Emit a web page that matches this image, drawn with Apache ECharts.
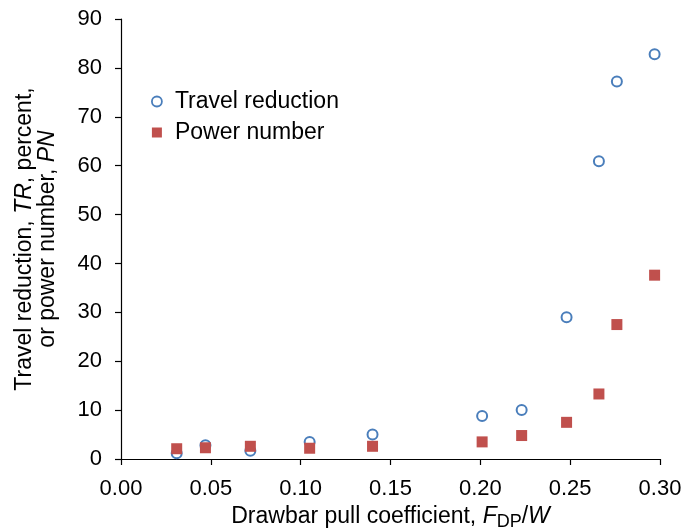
<!DOCTYPE html>
<html>
<head>
<meta charset="utf-8">
<script src="https://cdn.jsdelivr.net/npm/echarts@6/dist/echarts.min.js"></script>
<style>
html,body{margin:0;padding:0;background:#fff;}
#c{width:699px;height:531px;}
</style>
</head>
<body>
<div id="c"></div>
<script>
// Drawbar pull coefficient (x)
var fdp = [0.031, 0.047, 0.072, 0.105, 0.140, 0.201, 0.223, 0.248, 0.266, 0.276, 0.297];
// Travel reduction, percent
var travelReduction = [1.2, 2.8, 1.7, 3.5, 5.0, 8.8, 10.0, 29.0, 60.9, 77.2, 82.8];
// Power number
var powerNumber = [2.1, 2.3, 2.6, 2.2, 2.6, 3.5, 4.8, 7.5, 13.3, 27.5, 37.6];
var seriesNames = ['Travel reduction', 'Power number'];

var FONT = '"Liberation Sans", Arial, sans-serif';
var BLUE = '#4A7EBB', RED = '#C0504D';
var chart = echarts.init(document.getElementById('c'), null, {renderer: 'canvas'});

function pairs(xs, ys) { return xs.map(function (x, i) { return [x, ys[i]]; }); }

chart.setOption({
  animation: false,
  backgroundColor: '#ffffff',
  textStyle: {fontFamily: FONT, color: '#000'},
  grid: {left: 121, right: 39, top: 19, bottom: 72, containLabel: false, outerBoundsMode: 'none'},
  legend: {
    orient: 'vertical',
    left: 146, top: 85,
    itemWidth: 10, itemHeight: 10,
    itemGap: 8,
    textStyle: {fontFamily: FONT, fontSize: 23, color: '#000', padding: [0, 0, 0, 8]},
    data: [
      {name: seriesNames[0], icon: 'circle', itemStyle: {color: '#fff', borderColor: BLUE, borderWidth: 1.8}},
      {name: seriesNames[1], icon: 'rect', itemStyle: {color: RED, borderWidth: 0}}
    ]
  },
  xAxis: {
    type: 'value', min: 0, max: 0.3, interval: 0.05,
    splitLine: {show: false},
    axisLine: {show: true, onZero: false, lineStyle: {color: '#000', width: 1.2}},
    axisTick: {show: true, inside: false, length: 6, lineStyle: {color: '#000', width: 1.2}},
    axisLabel: {fontFamily: FONT, fontSize: 22, color: '#000', margin: 19,
      formatter: function (v) { return v.toFixed(2); }},
    name: '{n|Drawbar pull coefficient, }{i|F}{s|DP}{n|/}{i|W}',
    nameLocation: 'middle', nameGap: 42,
    nameTextStyle: {
      rich: {
        n: {fontFamily: FONT, fontSize: 23, color: '#000', lineHeight: 30, verticalAlign: 'middle'},
        i: {fontFamily: FONT, fontSize: 23, fontStyle: 'italic', color: '#000', lineHeight: 30, verticalAlign: 'middle'},
        s: {fontFamily: FONT, fontSize: 18, color: '#000', lineHeight: 30, verticalAlign: 'bottom'}
      }
    }
  },
  yAxis: {
    type: 'value', min: 0, max: 90, interval: 10,
    splitLine: {show: false},
    axisLine: {show: true, lineStyle: {color: '#000', width: 1.2}},
    axisTick: {show: true, inside: false, length: 6, lineStyle: {color: '#000', width: 1.2}},
    axisLabel: {fontFamily: FONT, fontSize: 22, color: '#000', margin: 19},
    name: '{n|Travel reduction, }{i|TR}{n|, percent,}\n{n|or power number, }{i|PN}',
    nameLocation: 'middle', nameGap: 62, nameRotate: 90,
    nameTextStyle: {
      align: 'center',
      rich: {
        n: {fontFamily: FONT, fontSize: 23, color: '#000', lineHeight: 23},
        i: {fontFamily: FONT, fontSize: 23, fontStyle: 'italic', color: '#000', lineHeight: 23}
      }
    }
  },
  series: [
    {
      name: seriesNames[0], type: 'scatter', symbol: 'emptyCircle', symbolSize: 10,
      itemStyle: {color: BLUE, borderColor: BLUE, borderWidth: 1.8, opacity: 1},
      data: pairs(fdp, travelReduction), z: 2
    },
    {
      name: seriesNames[1], type: 'scatter', symbol: 'rect', symbolSize: 11,
      itemStyle: {color: RED, borderWidth: 0, opacity: 1},
      data: pairs(fdp, powerNumber), z: 3
    }
  ]
});
</script>
</body>
</html>
